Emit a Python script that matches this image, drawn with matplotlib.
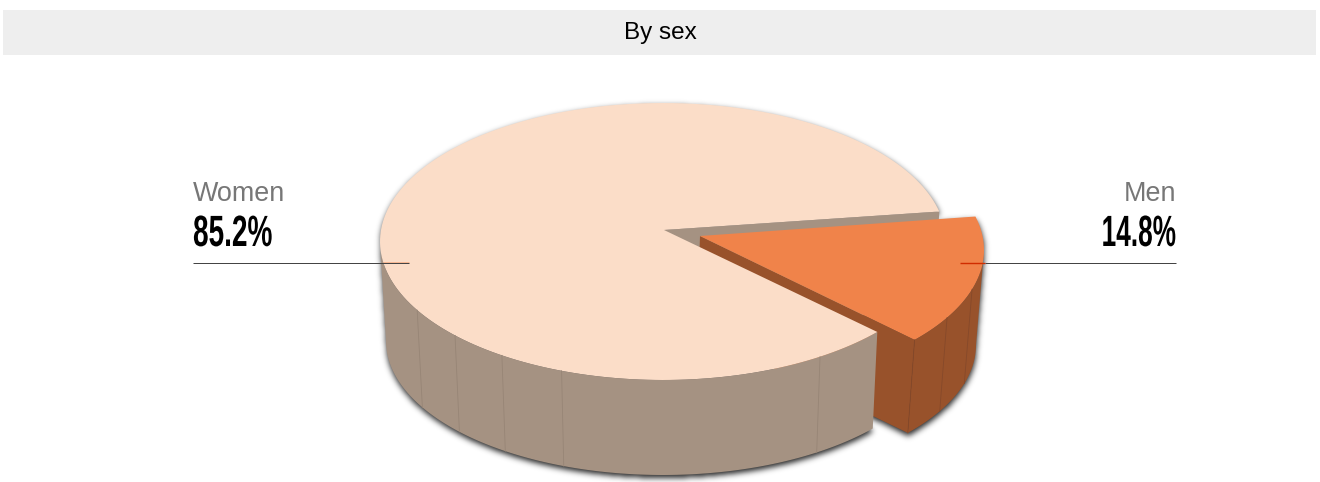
# -*- coding: utf-8 -*-
import numpy as np
import matplotlib
matplotlib.use('Agg')
import matplotlib.pyplot as plt
from matplotlib.patches import Polygon, Rectangle
from matplotlib.path import Path
from matplotlib.patheffects import AbstractPathEffect
from matplotlib.transforms import Affine2D

# data
title = 'By sex'
labels = ['Women', 'Men']
shares = [85.2, 14.8]

# colours
top_colors = ['#FBDDC8', '#F0834A']
wall_colors = ['#A59282', '#98522B']
seam_colors = ['#978576', '#86492A']


class Squeeze(AbstractPathEffect):
    """Narrow a text horizontally around its anchor (stand-in for a condensed font)."""

    def __init__(self, anchor_x, factor, stroke=0.0):
        super().__init__()
        self.anchor_x = anchor_x
        self.factor = factor
        self.stroke = stroke

    def draw_path(self, renderer, gc, tpath, affine, rgbFace=None):
        squeeze = (Affine2D().translate(-self.anchor_x, 0)
                   .scale(self.factor, 1).translate(self.anchor_x, 0))
        gc0 = renderer.new_gc()
        gc0.copy_properties(gc)
        gc0.set_linewidth(self.stroke)
        gc0.set_foreground(rgbFace)
        renderer.draw_path(gc0, tpath, affine + squeeze, rgbFace)
        gc0.restore()


def arc(center, rx, ry, t0, t1, n=200):
    t = np.radians(np.linspace(t0, t1, n))
    return np.column_stack([center[0] + rx * np.cos(t), center[1] - ry * np.sin(t)])


def at(center, rx, ry, t):
    return arc(center, rx, ry, t, t, 1)[0]


def blur(mask, sigma):
    r = int(3 * sigma)
    kernel = np.exp(-0.5 * (np.arange(-r, r + 1) / sigma) ** 2)
    kernel /= kernel.sum()
    mask = np.apply_along_axis(np.convolve, 0, mask, kernel, mode='same')
    return np.apply_along_axis(np.convolve, 1, mask, kernel, mode='same')


fig = plt.figure(figsize=(13.2, 4.82), dpi=100)
ax = fig.add_axes([0, 0, 1, 1])

# header band
ax.add_patch(Rectangle((3, 10), 1313, 45, fc='#EEEEEE', ec='none'))
ax.text(660.5, 32.5, title, ha='center', va='center', fontsize=17.5,
        family='Liberation Sans', color='#000000')

# view of the pie
women_top = ((663, 241.5), 283, 138.5)
women_bot = ((663, 341), 277, 134)
men_top = ((701, 250), 283, 137)
men_bot = ((698, 345), 278, 134)
women_apex = (664, 230)
women_apex_low = (661, 325)
men_apex = (700, 236)
men_apex_low = (697, 331)

# angles from the shares, men widened a little for the perspective
women_start = 12.5
women_end = women_start + shares[0] / 100 * 360
men_end = -41
men_start = men_end + shares[1] / 100 * 360 * 1.035

# soft drop shadow, blurred silhouette of both slices
women_outline = np.vstack([[women_apex], arc(*women_top, women_start, 180),
                           arc(*women_bot, 180, women_end)])
men_outline = np.vstack([[men_apex], arc(*men_top, men_start, 0),
                         arc(*men_bot, 0, men_end), [men_apex_low]])
xx, yy = np.meshgrid(np.arange(1320) + 0.5, np.arange(482) + 0.5)
pixels = np.column_stack([xx.ravel(), yy.ravel()])
mask = np.zeros(xx.shape)
for outline in (women_outline, men_outline):
    inside = Path(outline + [0.5, 3]).contains_points(pixels).reshape(xx.shape)
    mask = np.maximum(mask, inside)
shadow = np.zeros(xx.shape + (4,))
shadow[..., 3] = blur(mask, 3) * 0.85
ax.imshow(shadow, extent=(0, 1320, 482, 0), aspect='auto', interpolation='nearest', zorder=0)
ax.set_xlim(0, 1320)
ax.set_ylim(482, 0)
ax.axis('off')

# women, the cut wall behind the men slice
corner = at(*women_top, women_start)
ax.add_patch(Polygon([women_apex, corner, at(*women_bot, women_start), women_apex_low],
                     closed=True, fc=wall_colors[0], ec='none'))

# men, walls then top
ax.add_patch(Polygon([men_apex, at(*men_top, men_end), at(*men_bot, men_end), men_apex_low],
                     closed=True, fc=wall_colors[1], ec='none'))
ax.add_patch(Polygon(np.vstack([arc(*men_top, men_end, 0), arc(*men_bot, 0, men_end)]),
                     closed=True, fc=wall_colors[1], ec='none'))
for t in [-41, -29.6, -16.7]:
    p, q = at(*men_top, t), at(*men_bot, t)
    ax.plot([p[0], q[0]], [p[1], q[1]], color=seam_colors[1], lw=0.6)
ax.add_patch(Polygon(np.vstack([[men_apex], arc(*men_top, men_start, men_end)]),
                     closed=True, fc=top_colors[1], ec='none'))

# women, outer wall then top
ax.add_patch(Polygon(np.vstack([arc(*women_top, 180, women_end), arc(*women_bot, women_end, 180)]),
                     closed=True, fc=wall_colors[0], ec='none'))
for t in [209.7, 222.7, 235.3, 249, 303.7]:
    p, q = at(*women_top, t), at(*women_bot, t)
    ax.plot([p[0], q[0]], [p[1], q[1]], color=seam_colors[0], lw=0.6)
ax.add_patch(Polygon(np.vstack([[women_apex], arc(*women_top, women_start, women_end)]),
                     closed=True, fc=top_colors[0], ec='none'))

# leader lines
ax.plot([193, 409], [263, 263], color='#444444', lw=0.72, solid_capstyle='butt')
ax.plot([383, 409], [262.3, 262.3], color='#F0834A', lw=0.5, alpha=0.6, solid_capstyle='butt')
ax.plot([985, 1176], [263, 263], color='#444444', lw=0.72, solid_capstyle='butt')
ax.plot([960, 985], [262.5, 262.5], color='#D02C00', lw=1.0, solid_capstyle='butt')

# labels
ax.text(193, 201, labels[0], ha='left', va='baseline', fontsize=19.4,
        family='Liberation Sans', color='#777777')
ax.text(1176, 201, labels[1], ha='right', va='baseline', fontsize=19.4,
        family='Liberation Sans', color='#777777')
value_font = dict(va='baseline', fontsize=31.5, family='Liberation Sans',
                  fontweight='bold', color='black')
ax.text(193, 246, '%.1f%%' % shares[0], ha='left',
        path_effects=[Squeeze(193, 0.64)], **value_font)
ax.text(1176, 246, '%.1f%%' % shares[1], ha='right',
        path_effects=[Squeeze(1176, 0.6)], **value_font)

fig.savefig('out.png', dpi=100)
